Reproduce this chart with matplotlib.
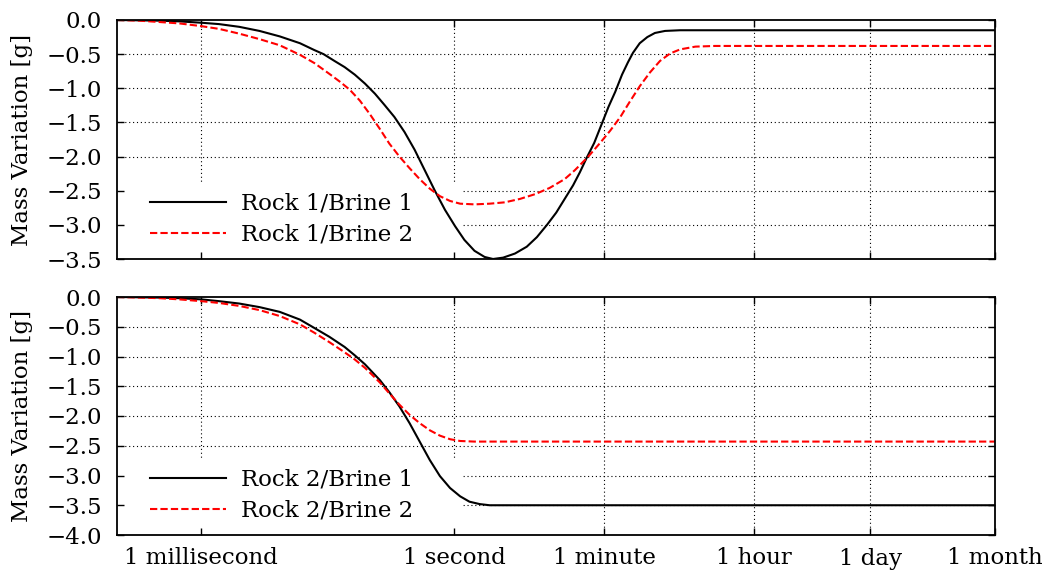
import matplotlib
matplotlib.use("Agg")
import matplotlib.pyplot as plt
from matplotlib.patches import Rectangle
from matplotlib.ticker import FuncFormatter

# time axis: log10 of seconds
top_b1_logt = [-4.0, -3.73, -3.49, -3.26, -3.0, -2.79, -2.55, -2.31, -2.07, -1.83, -1.66, -1.55, -1.42,
               -1.30, -1.18, -1.06, -0.94, -0.83, -0.71, -0.59, -0.47, -0.35, -0.23, -0.11, 0.01, 0.12,
               0.24, 0.36, 0.46, 0.58, 0.72, 0.86, 0.98, 1.10, 1.21, 1.31, 1.41, 1.49, 1.57, 1.66, 1.75,
               1.83, 1.91, 1.99, 2.06, 2.12, 2.20, 2.29, 2.38, 2.50, 2.68, 6.42]
top_b1_mass = [0.0, -0.005, -0.01, -0.02, -0.04, -0.06, -0.10, -0.16, -0.24, -0.34, -0.44, -0.50, -0.60,
               -0.69, -0.80, -0.93, -1.08, -1.24, -1.42, -1.64, -1.90, -2.20, -2.50, -2.78, -3.02, -3.22,
               -3.38, -3.47, -3.50, -3.48, -3.42, -3.32, -3.18, -3.00, -2.82, -2.62, -2.42, -2.23, -2.02,
               -1.80, -1.52, -1.27, -1.05, -0.80, -0.62, -0.48, -0.34, -0.25, -0.19, -0.16, -0.15, -0.15]

top_b2_logt = [-4.0, -3.73, -3.49, -3.26, -3.0, -2.79, -2.55, -2.31, -2.07, -1.83, -1.66, -1.48, -1.36,
               -1.24, -1.12, -1.0, -0.88, -0.77, -0.65, -0.53, -0.41, -0.29, -0.17, -0.05, 0.07, 0.24,
               0.42, 0.60, 0.78, 0.96, 1.13, 1.31, 1.43, 1.59, 1.73, 1.85, 1.97, 2.08, 2.20, 2.32, 2.44,
               2.56, 2.68, 2.86, 3.09, 6.42]
top_b2_mass = [0.0, -0.01, -0.03, -0.05, -0.09, -0.13, -0.20, -0.28, -0.37, -0.51, -0.63, -0.79, -0.90,
               -1.02, -1.18, -1.38, -1.60, -1.81, -2.00, -2.17, -2.33, -2.47, -2.58, -2.65, -2.69, -2.70,
               -2.69, -2.67, -2.62, -2.55, -2.46, -2.33, -2.20, -2.00, -1.80, -1.62, -1.42, -1.20, -0.97,
               -0.77, -0.60, -0.49, -0.43, -0.39, -0.38, -0.38]

bot_b1_logt = [-4.0, -3.73, -3.49, -3.26, -3.0, -2.79, -2.55, -2.31, -2.07, -1.83, -1.66, -1.48, -1.30,
               -1.18, -1.06, -0.98, -0.88, -0.77, -0.65, -0.53, -0.41, -0.29, -0.17, -0.05, 0.07, 0.18,
               0.30, 0.42, 6.42]
bot_b1_mass = [0.0, -0.005, -0.01, -0.02, -0.04, -0.07, -0.11, -0.17, -0.25, -0.38, -0.52, -0.67, -0.84,
               -0.98, -1.13, -1.25, -1.40, -1.60, -1.84, -2.12, -2.43, -2.74, -3.01, -3.21, -3.35, -3.44,
               -3.48, -3.50, -3.50]

bot_b2_logt = [-4.0, -3.73, -3.49, -3.26, -3.0, -2.79, -2.55, -2.31, -2.07, -1.83, -1.66, -1.48, -1.30,
               -1.18, -1.06, -0.98, -0.88, -0.77, -0.65, -0.53, -0.41, -0.29, -0.17, -0.05, 0.07, 0.24,
               6.42]
bot_b2_mass = [0.0, -0.01, -0.02, -0.04, -0.07, -0.10, -0.15, -0.22, -0.32, -0.46, -0.60, -0.76, -0.93,
               -1.05, -1.19, -1.30, -1.44, -1.62, -1.81, -1.98, -2.12, -2.24, -2.33, -2.39, -2.42, -2.43,
               -2.43]

tick_secs = [1e-3, 1, 60, 3600, 86400, 2592000]
tick_names = ["1 millisecond", "1 second", "1 minute", "1 hour", "1 day", "1 month"]

FS = 16.5
plt.rcParams["font.family"] = "DejaVu Serif"
plt.rcParams["font.size"] = FS

fig = plt.figure(figsize=(10.44, 5.71), dpi=100)
ax1 = fig.add_axes([117 / 1044, 1 - 259 / 571, 878 / 1044, 239 / 571])
ax2 = fig.add_axes([117 / 1044, 1 - 535 / 571, 878 / 1044, 238 / 571])

def fmt(v, pos):
    s = "%.1f" % v
    if s == "-0.0":
        s = "0.0"
    return s.replace("-", "\u2212")

panels = [
    (ax1, top_b1_logt, top_b1_mass, top_b2_logt, top_b2_mass, ["Rock 1/Brine 1", "Rock 1/Brine 2"], -3.5),
    (ax2, bot_b1_logt, bot_b1_mass, bot_b2_logt, bot_b2_mass, ["Rock 2/Brine 1", "Rock 2/Brine 2"], -4.0),
]

for ax, lt1, m1, lt2, m2, labels, ymin in panels:
    ax.set_xscale("log")
    ax.set_xlim(1e-4, 2592000)
    ax.set_ylim(ymin, 0)
    yt = [-0.5 * i for i in range(int(round(-ymin / 0.5)) + 1)]
    ax.set_yticks(yt)
    ax.yaxis.set_major_formatter(FuncFormatter(fmt))
    ax.set_xticks(tick_secs)
    ax.minorticks_off()
    ax.tick_params(axis="both", which="major", direction="in", top=True, right=True,
                   length=5, width=1.0, labelsize=FS)
    ax.tick_params(axis="y", pad=11)
    ax.tick_params(axis="x", pad=9)

    # grid drawn by hand so the legend patch can hide it but not the ticks
    for y in yt[1:-1]:
        ax.axhline(y, color="black", lw=0.8, ls=(0, (1, 2.5)), zorder=0.5)
    for t in tick_secs[:-1]:
        ax.axvline(t, color="black", lw=0.8, ls=(0, (1, 2.5)), zorder=0.5)
    ax.add_patch(Rectangle((0, 0), 0.394, 0.315, transform=ax.transAxes,
                           facecolor="white", edgecolor="none", zorder=1))

    ax.plot([10 ** v for v in lt1], m1, color="black", lw=1.5, label=labels[0], zorder=2)
    ax.plot([10 ** v for v in lt2], m2, color="#ff0000", lw=1.5, ls=(0, (3.5, 1.5)),
            label=labels[1], zorder=2)

    for sp in ax.spines.values():
        sp.set_linewidth(1.3)

    ax.set_ylabel("Mass Variation [g]", fontsize=FS)
    ax.yaxis.set_label_coords(-0.096, 0.5)
    leg = ax.legend(loc="lower left", bbox_to_anchor=(0.0376, 0.055), frameon=False,
                    borderpad=0, borderaxespad=0, handlelength=3.3, handletextpad=0.65,
                    labelspacing=0.4, fontsize=FS)
    leg.set_zorder(5)

ax1.set_xticklabels([])
ax2.set_xticklabels(tick_names)

fig.savefig("out.png", dpi=100)
